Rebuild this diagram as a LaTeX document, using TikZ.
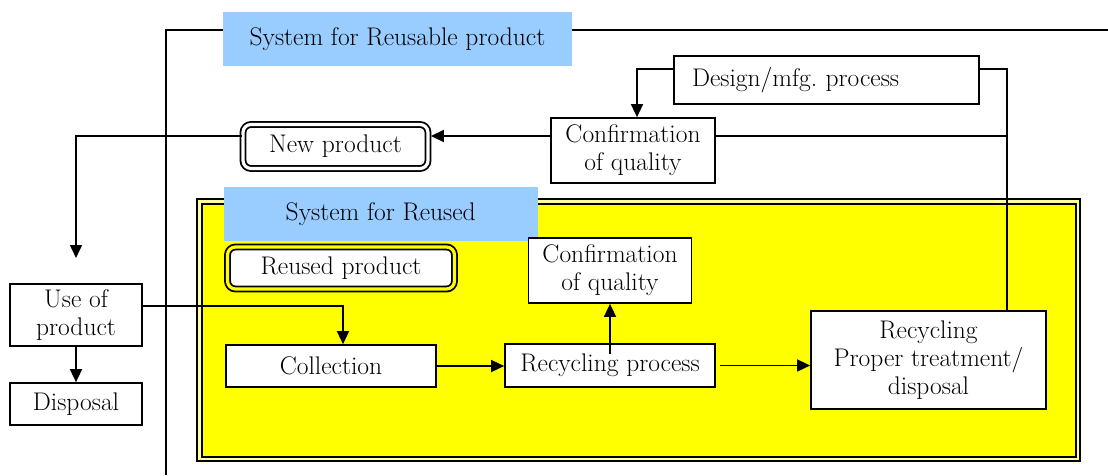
\documentclass[tikz,border=0pt]{standalone}
\usetikzlibrary{arrows.meta,calc}
\definecolor{lblue}{HTML}{99CCFF}
\definecolor{yel}{HTML}{FFFF00}
\definecolor{lyel}{HTML}{FFFFA0}
\begin{document}
\begin{tikzpicture}[x=1pt,y=-1pt,
  every node/.style={font=\fontsize{25.5}{28}\selectfont},
  box/.style={draw,line width=1.7pt,fill=white,align=center,inner sep=0pt},
  lbl/.style={fill=lblue,inner sep=0pt,align=center},
  arr/.style={line width=1.5pt,-{Triangle[length=13pt,width=12pt]}},
  ln/.style={line width=1.5pt},
  dbox/.style={draw,line width=1.8pt,double distance=3.2pt,rounded corners=8pt,inner sep=0pt,align=center}
]
\useasboundingbox (0,0) rectangle (1108,475);
% outer system frame
\draw[line width=1.8pt] (166,475) -- (166,30) -- (1108,30);
\node[lbl,minimum width=349pt,minimum height=54pt] (lab1) at (397.5,39) {System for Reusable product};
% yellow frame
\draw[line width=2pt,fill=lyel] (197,199) rectangle (1080,461);
\draw[line width=2pt,fill=yel] (201.5,203.5) rectangle (1076,457);
\node[lbl,minimum width=313.5pt,minimum height=54pt] (lab2) at (380.75,214) {System for Reused};
% nodes
\node[box,text width=269pt,inner xsep=18pt,align=left,minimum height=48pt] (design) at (826.5,80) {Design/mfg.\ process};
\node[box,minimum width=164pt,minimum height=65pt] (cq1) at (633,150.5) {Confirmation\\of quality};
\node[dbox,double=white,fill=white,minimum width=185pt,minimum height=44pt] (np) at (335.5,146.5) {New product};
\node[dbox,double=yel,fill=white,minimum width=227pt,minimum height=42pt] (rprod) at (341,268) {Reused product};
\node[box,minimum width=163pt,minimum height=65pt] (cq2) at (610,270.5) {Confirmation\\of quality};
\node[box,minimum width=132pt,minimum height=62pt] (uop) at (76,315) {Use of\\product};
\node[box,minimum width=132pt,minimum height=42pt] (disp) at (76,404) {Disposal};
\node[box,minimum width=210pt,minimum height=42pt] (col) at (331,366) {Collection};
\node[box,minimum width=210pt,minimum height=43pt] (rp) at (610,365.5) {Recycling process};
\node[box,minimum width=235pt,minimum height=98pt] (rec) at (928.5,360) {Recycling\\Proper treatment/\\disposal};
% helper coordinates
\coordinate (hd) at (637,69);
\coordinate (j) at (1007,69);
\coordinate (h1) at (76,136);
\coordinate (a1) at (76,258);
\coordinate (h2) at (343,306);
% connectors
\draw[arr] (design.west |- hd) -- (hd) -- (hd |- cq1.north);
\draw[ln] (design.east |- j) -- (j) -- (j |- rec.north);
\draw[ln] (cq1.east |- h1) -- (j |- h1);
\draw[arr] (cq1.west |- h1) -- ([xshift=2pt]np.east |- h1);
\draw[arr] (np.west |- h1) -- (h1) -- (a1);
\draw[arr] (uop.east |- h2) -- (h2) -- (h2 |- col.north);
\draw[arr] (uop.south) -- (disp.north);
\draw[arr] (col.east) -- (rp.west |- col.east);
\draw[arr,shorten <=4pt] (rp.east) -- (rec.west |- rp.east);
\draw[arr] ([yshift=-11pt]rp.north) -- (cq2.south);
\end{tikzpicture}
\end{document}
